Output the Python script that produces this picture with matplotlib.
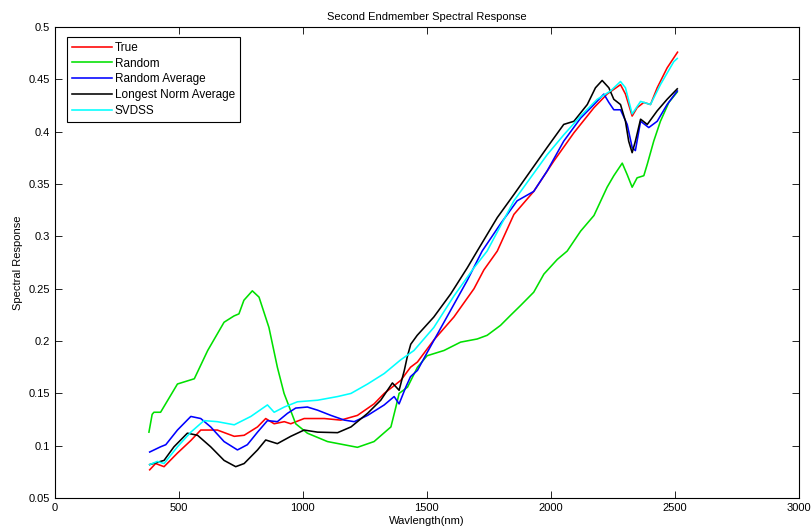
import matplotlib.pyplot as plt
from matplotlib.ticker import FormatStrFormatter, MultipleLocator

plt.rcParams['font.family'] = ['Liberation Sans', 'DejaVu Sans']
plt.rcParams['font.size'] = 8

# Wavelength (nm) / response pairs per endmember estimate
true_x = [382, 406, 440, 494, 548, 588, 655, 723, 763, 817, 850, 884, 925, 951, 1005,
          1086, 1153, 1220, 1287, 1328, 1395, 1434, 1462, 1528, 1609, 1690, 1730, 1784,
          1851, 1931, 2012, 2093, 2174, 2227, 2281, 2301, 2328, 2348, 2375, 2402, 2429,
          2469, 2511]
true_y = [0.077, 0.083, 0.080, 0.093, 0.105, 0.115, 0.115, 0.109, 0.110, 0.118, 0.126,
          0.121, 0.123, 0.121, 0.126, 0.126, 0.1245, 0.129, 0.140, 0.150, 0.1625, 0.175,
          0.180, 0.201, 0.223, 0.250, 0.268, 0.286, 0.321, 0.343, 0.372, 0.399, 0.423,
          0.436, 0.445, 0.436, 0.415, 0.423, 0.428, 0.426, 0.442, 0.461, 0.476]

rand_x = [379, 392, 399, 426, 494, 562, 616, 682, 722, 742, 762, 796, 823, 863, 897, 924,
          971, 1018, 1099, 1220, 1287, 1355, 1375, 1388, 1422, 1462, 1501, 1569, 1636,
          1703, 1743, 1797, 1837, 1878, 1931, 1972, 2026, 2066, 2120, 2174, 2227, 2254,
          2288, 2308, 2328, 2348, 2375, 2389, 2415, 2442, 2476, 2510]
rand_y = [0.113, 0.130, 0.132, 0.132, 0.159, 0.164, 0.191, 0.218, 0.224, 0.226, 0.239,
          0.248, 0.242, 0.213, 0.175, 0.150, 0.121, 0.112, 0.104, 0.0985, 0.104, 0.118,
          0.137, 0.150, 0.156, 0.175, 0.186, 0.191, 0.199, 0.202, 0.2055, 0.215, 0.2245,
          0.234, 0.2467, 0.264, 0.278, 0.286, 0.305, 0.320, 0.347, 0.358, 0.370, 0.359,
          0.347, 0.356, 0.358, 0.369, 0.391, 0.410, 0.428, 0.438]

ravg_x = [382, 426, 447, 494, 548, 588, 628, 682, 736, 776, 817, 857, 897, 938, 971,
          1018, 1059, 1113, 1167, 1207, 1261, 1328, 1368, 1388, 1415, 1434, 1462, 1501,
          1569, 1663, 1723, 1797, 1864, 1931, 1985, 2052, 2120, 2174, 2214, 2234, 2254,
          2281, 2308, 2328, 2341, 2362, 2395, 2429, 2469, 2510]
ravg_y = [0.094, 0.099, 0.101, 0.115, 0.128, 0.126, 0.118, 0.104, 0.096, 0.101, 0.113,
          0.124, 0.123, 0.131, 0.136, 0.137, 0.134, 0.129, 0.1245, 0.123, 0.129, 0.139,
          0.147, 0.140, 0.156, 0.166, 0.172, 0.189, 0.218, 0.258, 0.286, 0.312, 0.334,
          0.343, 0.3625, 0.391, 0.413, 0.426, 0.436, 0.428, 0.421, 0.421, 0.407, 0.385,
          0.382, 0.410, 0.404, 0.410, 0.426, 0.439]

lnorm_x = [382, 440, 480, 534, 575, 628, 682, 729, 763, 817, 850, 897, 951, 1005, 1059,
           1140, 1194, 1261, 1314, 1361, 1388, 1409, 1421, 1435, 1461, 1528, 1596, 1663,
           1703, 1784, 1851, 1918, 1985, 2052, 2093, 2147, 2180, 2207, 2234, 2254, 2281,
           2301, 2314, 2328, 2341, 2362, 2389, 2429, 2469, 2510]
lnorm_y = [0.082, 0.086, 0.099, 0.112, 0.110, 0.099, 0.086, 0.080, 0.083, 0.096, 0.1055,
           0.102, 0.109, 0.115, 0.113, 0.1125, 0.118, 0.131, 0.1435, 0.160, 0.153, 0.172,
           0.185, 0.197, 0.2055, 0.223, 0.245, 0.270, 0.286, 0.318, 0.340, 0.3625, 0.385,
           0.407, 0.410, 0.426, 0.442, 0.449, 0.442, 0.431, 0.426, 0.410, 0.391, 0.380,
           0.391, 0.412, 0.407, 0.420, 0.431, 0.441]

svdss_x = [382, 413, 440, 494, 548, 601, 655, 723, 790, 857, 884, 925, 978, 1059, 1140,
           1194, 1261, 1328, 1394, 1448, 1528, 1609, 1690, 1743, 1851, 1918, 1985, 2052,
           2120, 2187, 2241, 2281, 2301, 2328, 2362, 2402, 2442, 2496, 2510]
svdss_y = [0.082, 0.085, 0.083, 0.099, 0.113, 0.124, 0.123, 0.120, 0.128, 0.139, 0.132,
           0.137, 0.142, 0.1435, 0.147, 0.150, 0.159, 0.169, 0.182, 0.191, 0.213, 0.243,
           0.270, 0.286, 0.334, 0.356, 0.378, 0.397, 0.415, 0.431, 0.439, 0.448, 0.442,
           0.417, 0.429, 0.426, 0.445, 0.467, 0.470]

fig = plt.figure(figsize=(8.12, 5.31), dpi=100)
ax = fig.add_axes([0.0677, 0.062, 0.916, 0.887])

lw = 1.15
ax.plot(true_x, true_y, color='#ff0000', lw=lw, label='True')
ax.plot(rand_x, rand_y, color='#00e000', lw=lw, label='Random')
ax.plot(ravg_x, ravg_y, color='#0000ff', lw=lw, label='Random Average')
ax.plot(lnorm_x, lnorm_y, color='#000000', lw=lw, label='Longest Norm Average')
ax.plot(svdss_x, svdss_y, color='#00ffff', lw=lw, label='SVDSS')

ax.set_xlim(0, 3000)
ax.set_ylim(0.05, 0.5)
ax.xaxis.set_major_locator(MultipleLocator(500))
ax.yaxis.set_major_locator(MultipleLocator(0.05))
ax.yaxis.set_major_formatter(FormatStrFormatter('%g'))
ax.tick_params(direction='in', top=True, right=True, length=5, width=0.6, labelsize=8)
for s in ax.spines.values():
    s.set_linewidth(0.8)

ax.set_title('Second Endmember Spectral Response', fontsize=8, pad=5)
ax.set_xlabel('Wavlength(nm)', fontsize=8, labelpad=2)
ax.set_ylabel('Spectral Response', fontsize=8, labelpad=4)

leg = ax.legend(loc='upper left', bbox_to_anchor=(0.016, 0.979), fontsize=8.5,
                fancybox=False, edgecolor='black', framealpha=1,
                handlelength=3.4, handletextpad=0.25, labelspacing=0.33,
                borderpad=0.4, borderaxespad=0)
leg.get_frame().set_linewidth(0.8)

fig.savefig('out.png', dpi=100)
